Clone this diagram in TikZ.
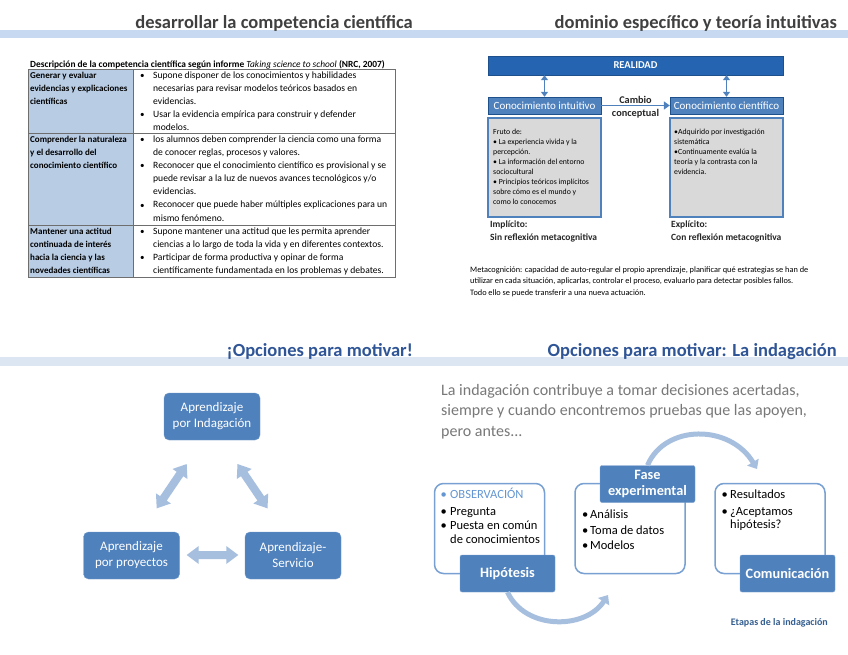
\documentclass[tikz,border=0pt]{standalone}
\usepackage{fontspec}
\setmainfont{Carlito}
\usetikzlibrary{arrows.meta}
\definecolor{boxblue}{RGB}{79,129,189}
\definecolor{realblue}{RGB}{36,100,176}
\definecolor{realborder}{RGB}{30,80,140}
\definecolor{lightarrow}{RGB}{167,191,222}
\definecolor{bandtop}{RGB}{198,217,241}
\definecolor{bandbot}{RGB}{220,230,242}
\definecolor{titlegray}{RGB}{64,64,64}
\definecolor{titleblue}{RGB}{47,85,151}
\definecolor{tablefill}{RGB}{184,204,228}
\definecolor{tableline}{RGB}{110,110,110}
\definecolor{greyfill}{RGB}{217,217,217}
\definecolor{introgray}{RGB}{120,120,120}
\definecolor{obsblue}{RGB}{100,150,210}
\definecolor{roundborder}{RGB}{120,160,210}
\definecolor{etapas}{RGB}{54,95,145}
\newcommand{\mlines}[1]{\begin{tabular}[t]{@{}l@{}}#1\end{tabular}}
\newcommand{\dblblock}[3]{% center, rotation, length
  \begin{scope}[shift={#1}, rotate=#2]
    \fill[lightarrow] (-#3/2,0) -- (-#3/2+12,9) -- (-#3/2+12,4) -- (#3/2-12,4) -- (#3/2-12,9)
      -- (#3/2,0) -- (#3/2-12,-9) -- (#3/2-12,-4) -- (-#3/2+12,-4) -- (-#3/2+12,-9) -- cycle;
  \end{scope}}
\begin{document}
\begin{tikzpicture}[x=1pt,y=-1pt,
  title/.style={font=\fontsize{18.5}{20}\selectfont\bfseries, inner sep=0, anchor=base east},
  tcell/.style={font=\fontsize{9.6}{13}\selectfont, inner sep=0, anchor=base west},
  tcellb/.style={font=\fontsize{9}{13}\selectfont\bfseries, inner sep=0, anchor=base west},
  tbul/.style={font=\fontsize{9}{13}\selectfont, inner sep=0, anchor=base west},
  bluebox/.style={draw=realborder, fill=boxblue, text=white, minimum width=113, minimum height=17, inner sep=0, font=\fontsize{11}{12}\selectfont},
  greybox/.style={draw=boxblue, line width=1.5pt, fill=greyfill, minimum width=113, minimum height=99, inner sep=0},
  greytext/.style={font=\fontsize{7.8}{10}\selectfont, inner sep=0, anchor=base west},
  implabel/.style={font=\fontsize{9.5}{13}\selectfont\bfseries, inner sep=0, anchor=base west, text=black!85},
  vdbl/.style={{Triangle[length=5pt,width=7pt]}-{Triangle[length=5pt,width=7pt]}, draw=boxblue, line width=1.5pt},
  harrow/.style={-{Triangle[length=6pt,width=8pt]}, draw=boxblue, line width=1.8pt},
  lbox/.style={draw=boxblue!80!white, fill=boxblue, text=white, rounded corners=5pt, minimum width=96, minimum height=47, inner sep=0, align=center, font=\fontsize{13}{16}\selectfont},
  rbox/.style={draw=roundborder, line width=1.5pt, fill=white, rounded corners=9pt, minimum width=110, minimum height=90, inner sep=0},
  fbox/.style={draw=boxblue!70!white, fill=boxblue, text=white, rounded corners=2pt, minimum width=95, minimum height=37, inner sep=0, align=center, font=\fontsize{14.3}{16}\selectfont\bfseries},
  btext/.style={font=\fontsize{12.5}{14}\selectfont, inner sep=0, anchor=base west},
  arc/.style={draw=lightarrow, line width=5pt, -{Triangle[length=8pt,width=13pt]}}
]
\useasboundingbox (0,0) rectangle (848,655);
\fill[white] (0,0) rectangle (848,655);

% bands
\fill[bandtop] (0,30) rectangle (848,38);
\fill[bandbot] (0,357) rectangle (848,366);

% titles
\node[title, text=titlegray] (t1) at (413,29) {desarrollar la competencia científica};
\node[title, text=titlegray] (t2) at (837,29) {dominio específico y teoría intuitivas};
\node[title, text=titleblue] (t3) at (413,356) {¡Opciones para motivar!};
\node[title, text=titleblue] (t4) at (837,356) {Opciones para motivar: La indagación};

% ---------- table ----------
\node[font=\fontsize{9.4}{10}\selectfont\bfseries, inner sep=0, anchor=base west] (cap) at (30,68)
  {Descripción de la competencia científica según informe \textit{\mdseries Taking science to school} (NRC, 2007)};
\fill[tablefill] (28,70) rectangle (133,277);
\draw[tableline, line width=1pt] (28,70) rectangle (395,277);
\draw[tableline, line width=0.8pt] (133,70) -- (133,277);
\draw[tableline, line width=1pt] (28,134) -- (395,134);
\draw[tableline, line width=1pt] (28,225) -- (395,225);

\node[tcellb] (l1) at (30,79) {\mlines{Generar y evaluar\\evidencias y explicaciones\\científicas}};
\node[tcellb] (l2) at (30,143) {\mlines{Comprender la naturaleza\\y el desarrollo del\\conocimiento científico}};
\node[tcellb] (l3) at (30,234) {\mlines{Mantener una actitud\\continuada de interés\\hacia la ciencia y las\\novedades científicas}};

\node[tcell] (r1) at (153,79) {\mlines{Supone disponer de los conocimientos y habilidades\\necesarias para revisar modelos teóricos basados en\\evidencias.\\Usar la evidencia empírica para construir y defender\\modelos.}};
\node[tcell] (r2) at (153,143) {\mlines{los alumnos deben comprender la ciencia como una forma\\de conocer reglas, procesos y valores.\\Reconocer que el conocimiento científico es provisional y se\\puede revisar a la luz de nuevos avances tecnológicos y/o\\evidencias.\\Reconocer que puede haber múltiples explicaciones para un\\mismo fenómeno.}};
\node[tcell] (r3) at (153,234) {\mlines{Supone mantener una actitud que les permita aprender\\ciencias a lo largo de toda la vida y en diferentes contextos.\\Participar de forma productiva y opinar de forma\\científicamente fundamentada en los problemas y debates.}};
\foreach \yy [count=\i] in {79,118,143,169,208,234,260}
  \node[tbul] (bul\i) at (140,\yy) {•};

% ---------- top right ----------
\node[draw=realborder, fill=realblue, text=white, minimum width=295, minimum height=19, inner sep=0, font=\fontsize{10.5}{11}\selectfont\bfseries] (real) at (635.5,65.5) {REALIDAD};
\node[bluebox] (ci) at (544.5,105.5) {Conocimiento intuitivo};
\node[bluebox] (cc) at (726.5,105.5) {Conocimiento científico};
\draw[vdbl] (real.south -| ci.north) -- (ci.north);
\draw[vdbl] (real.south -| cc.north) -- (cc.north);
\draw[harrow] (ci.east) -- (cc.west);
\node[font=\fontsize{10.3}{13}\selectfont\bfseries, align=center, inner sep=0, text=black!85] (cambio) at (635.5,107.5) {Cambio\\conceptual};

\node[greybox] (gl) at (544.5,167.5) {};
\node[greybox] (gr) at (726.5,167.5) {};
\node[greytext] (glt) at (493,135) {\mlines{Fruto de:\\• La experiencia vivida y la\\percepción.\\• La información del entorno\\sociocultural\\• Principios teóricos implícitos\\sobre cómo es el mundo y\\como lo conocemos}};
\node[greytext] (grt) at (674,135) {\mlines{•Adquirido por investigación\\sistemática\\•Continuamente evalúa la\\teoría y la contrasta con la\\evidencia.}};

\node[implabel] (imp) at (490,227) {\mlines{Implícito:\\Sin reflexión metacognitiva}};
\node[implabel] (exp) at (671,227) {\mlines{Explícito:\\Con reflexión metacognitiva}};

\node[font=\fontsize{8.3}{11.5}\selectfont, inner sep=0, anchor=base west] (meta) at (470,272)
  {\mlines{Metacognición: capacidad de auto-regular el propio aprendizaje, planificar qué estrategias se han de\\utilizar en cada situación, aplicarlas, controlar el proceso, evaluarlo para detectar posibles fallos.\\Todo ello se puede transferir a una nueva actuación.}};

% ---------- bottom left ----------
\node[lbox] (ind) at (212,416.5) {Aprendizaje\\por Indagación};
\node[lbox] (proy) at (131.5,555.5) {Aprendizaje\\por proyectos};
\node[lbox] (serv) at (293,555.5) {Aprendizaje-\\Servicio};
\dblblock{(171.7,486.2)}{55.9}{53.5}
\dblblock{(252.5,486.2)}{-55.9}{53.5}
\dblblock{(212.5,555)}{0}{51.6}

% ---------- bottom right ----------
\node[font=\fontsize{16}{20.5}\selectfont, text=introgray, inner sep=0, anchor=base west] (intro) at (441,395)
  {\mlines{La indagación contribuye a tomar decisiones acertadas,\\siempre y cuando encontremos pruebas que las apoyen,\\pero antes...}};

\node[rbox] (b1) at (489.5,528.5) {};
\node[rbox] (b2) at (630,528.5) {};
\node[rbox] (b3) at (770,528.5) {};
\node[fbox] (hip) at (507.5,573.5) {Hipótesis};
\node[fbox] (fase) at (647.5,484) {Fase\\experimental};
\node[fbox] (com) at (787.5,573.5) {Comunicación};

\node[btext, text=obsblue] (o1b) at (440.5,498) {•};
\node[btext, text=obsblue] (o1) at (450,498) {OBSERVACIÓN};
\node[btext] (o2b) at (440.5,515) {•};
\node[btext] (o2) at (450,515) {Pregunta};
\node[btext] (o3b) at (440.5,529.5) {•};
\node[btext] (o3) at (450,529.5) {Puesta en común};
\node[btext] (o4) at (450,543) {de conocimientos};

\node[btext] (e1b) at (582,518) {•};
\node[btext] (e1) at (590,518) {Análisis};
\node[btext] (e2b) at (582,534) {•};
\node[btext] (e2) at (590,534) {Toma de datos};
\node[btext] (e3b) at (582,549) {•};
\node[btext] (e3) at (590,549) {Modelos};

\node[btext] (c1b) at (721.5,498) {•};
\node[btext] (c1) at (730,498) {Resultados};
\node[btext] (c2b) at (721.5,515) {•};
\node[btext] (c2) at (730,515) {¿Aceptamos};
\node[btext] (c3) at (730,528) {hipótesis?};

\coordinate (a1e) at (608,595);
\coordinate (a2e) at (757,469);
\draw[arc] (hip.south) .. controls (525,630) and (585,630) .. (a1e);
\draw[arc] (fase.north) .. controls (665,424) and (730,424) .. (a2e);

\node[font=\fontsize{10}{11}\selectfont\bfseries, text=etapas, inner sep=0, anchor=base east] (etap) at (828,625) {Etapas de la indagación};
\end{tikzpicture}
\end{document}
